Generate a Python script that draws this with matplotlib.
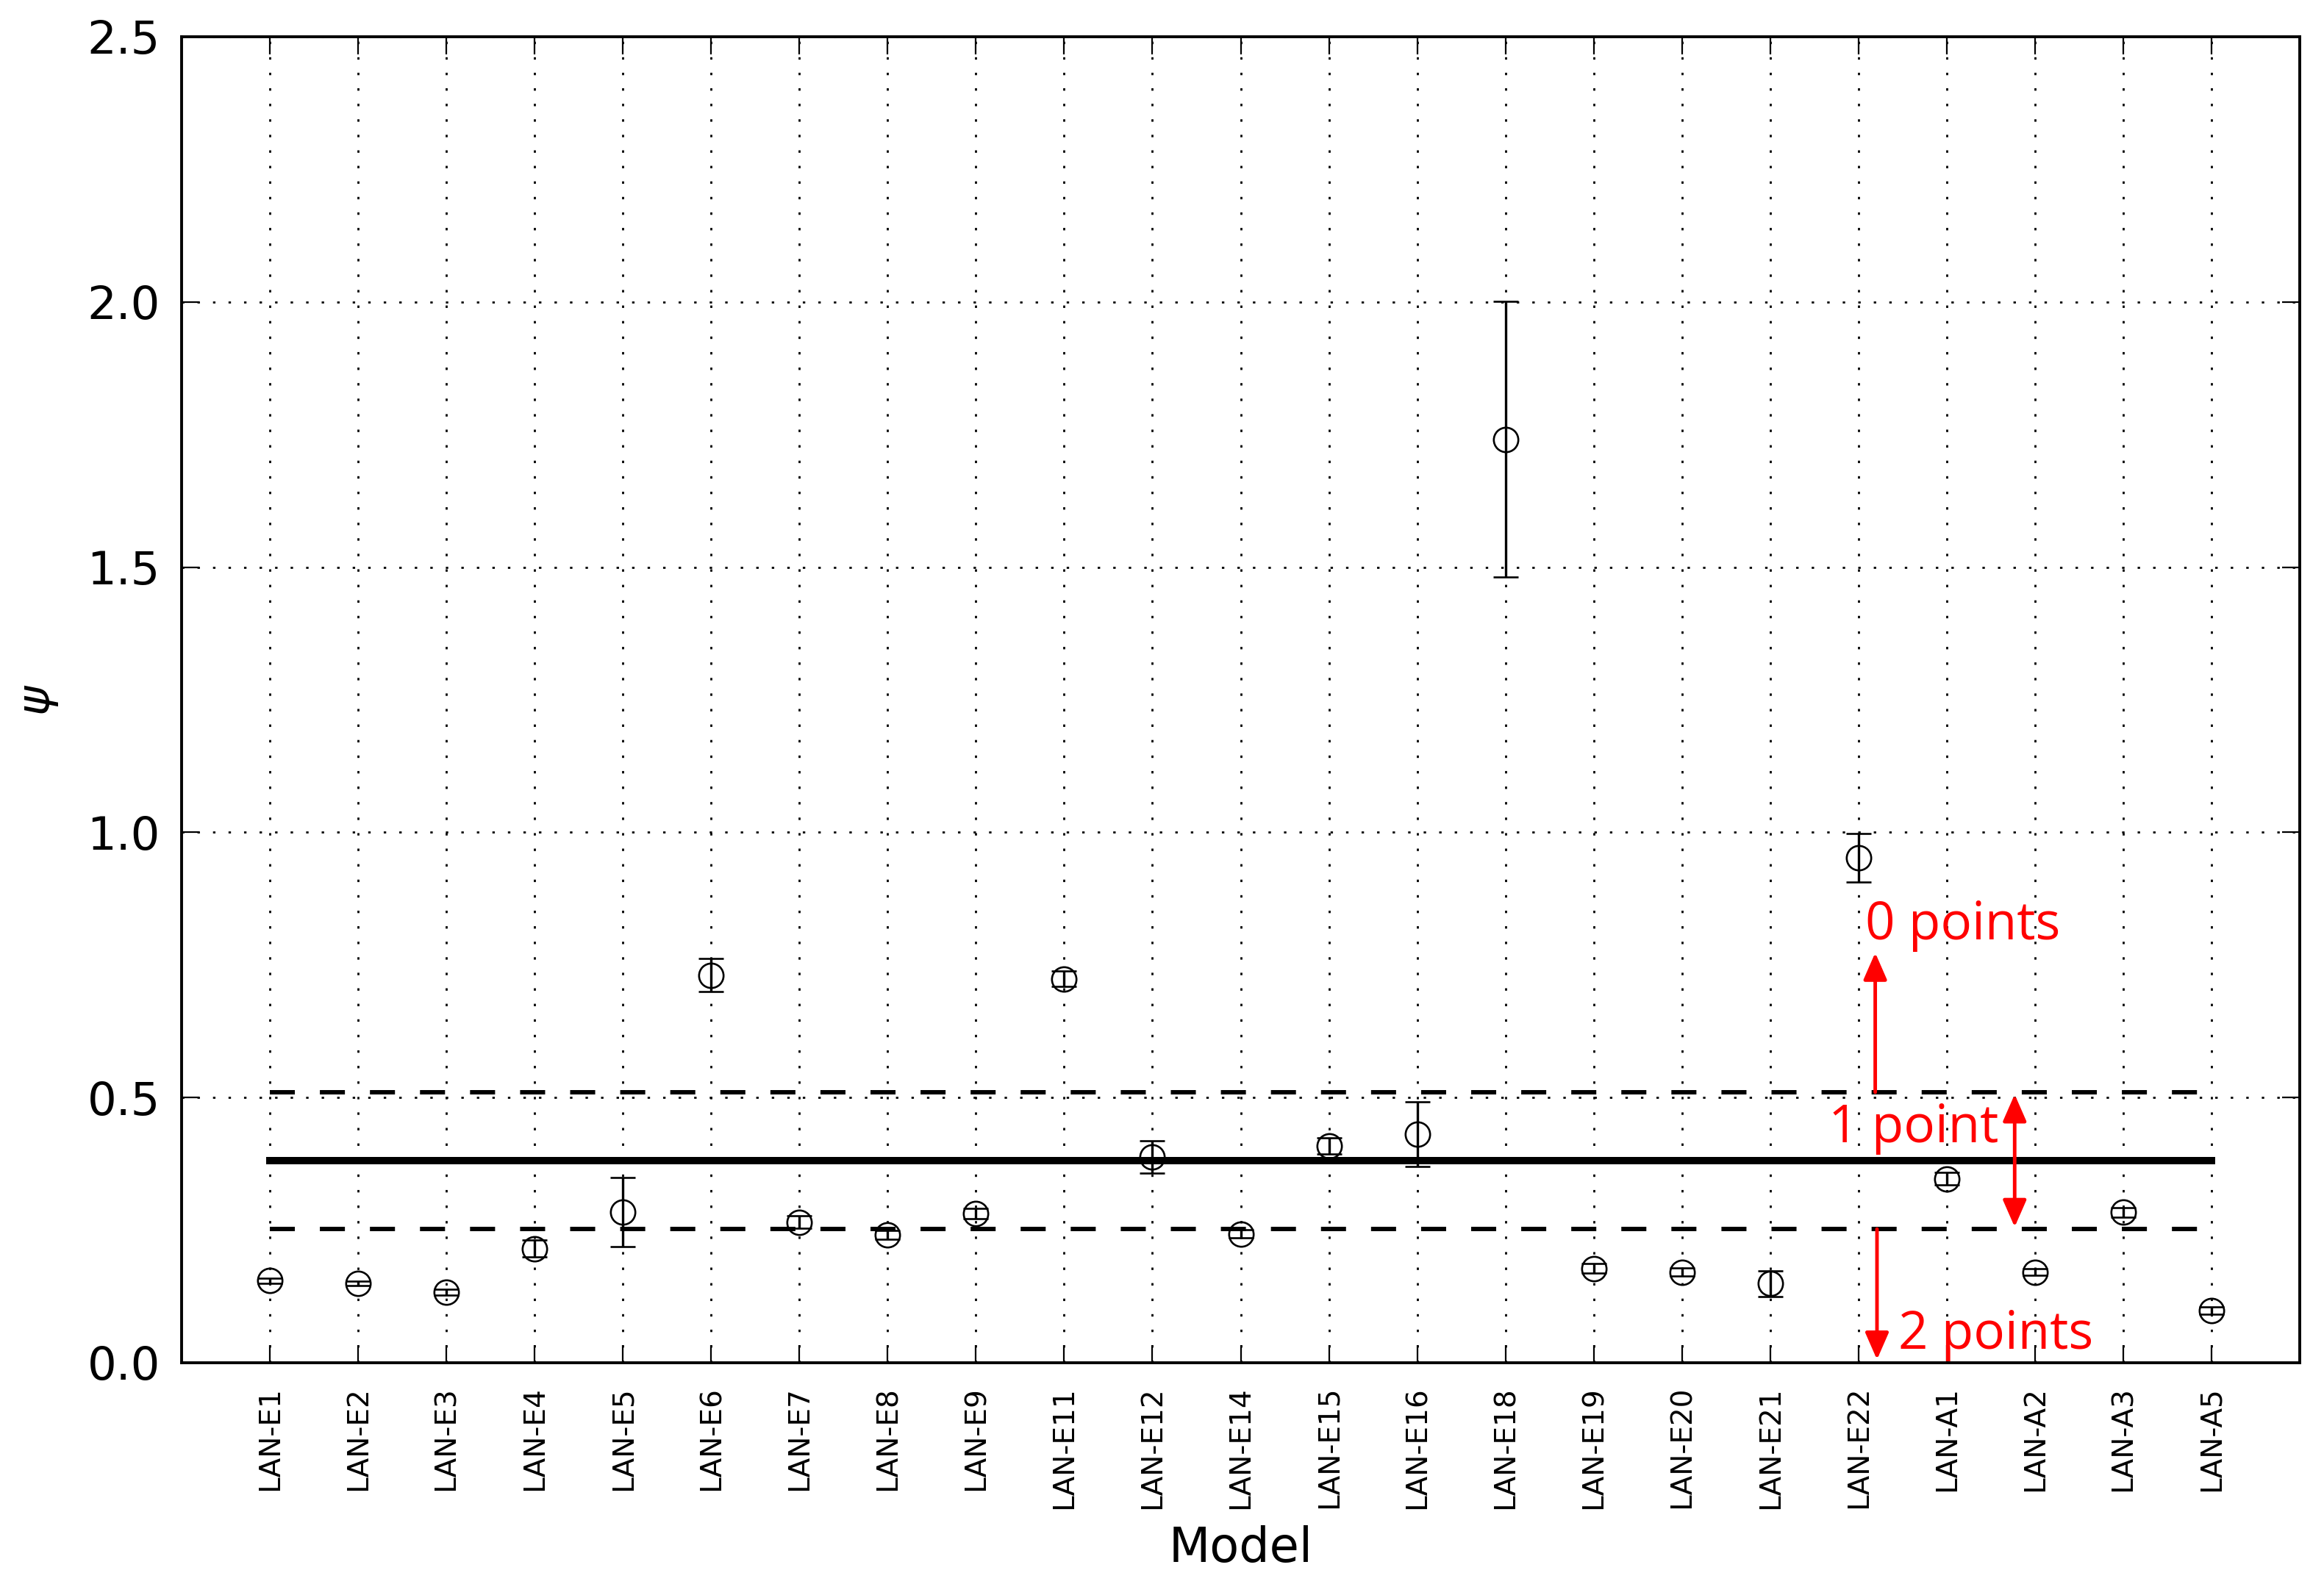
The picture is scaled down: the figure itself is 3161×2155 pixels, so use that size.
import matplotlib
matplotlib.use('Agg')
import matplotlib.pyplot as plt
import numpy as np

# ---------------- data ----------------
models = ['LAN-E1', 'LAN-E2', 'LAN-E3', 'LAN-E4', 'LAN-E5', 'LAN-E6', 'LAN-E7',
          'LAN-E8', 'LAN-E9', 'LAN-E11', 'LAN-E12', 'LAN-E14', 'LAN-E15',
          'LAN-E16', 'LAN-E18', 'LAN-E19', 'LAN-E20', 'LAN-E21', 'LAN-E22',
          'LAN-A1', 'LAN-A2', 'LAN-A3', 'LAN-A5']
psi = [0.155, 0.150, 0.133, 0.215, 0.284, 0.731, 0.265, 0.241, 0.281,
       0.724, 0.388, 0.243, 0.409, 0.431, 1.741, 0.178, 0.171, 0.149,
       0.952, 0.347, 0.171, 0.284, 0.099]
psi_err = [0.005, 0.004, 0.006, 0.016, 0.065, 0.031, 0.012, 0.008, 0.010,
           0.014, 0.030, 0.008, 0.015, 0.061, 0.260, 0.009, 0.008, 0.024,
           0.046, 0.012, 0.006, 0.009, 0.007]
mean_psi = 0.381
band = 0.129
yticks = [0.0, 0.5, 1.0, 1.5, 2.0, 2.5]
labels_red = ['0 points', '1 point', '2 points']

# ---------------- figure ----------------
W, H = 3161, 2155
fig = plt.figure(figsize=(W / 100, H / 100), dpi=100)
L, R, T, B = 247, 3128, 50, 1854
ax = fig.add_axes([L / W, 1 - B / H, (R - L) / W, (B - T) / H])

x = np.arange(len(models))
ax.errorbar(x, psi, yerr=psi_err, fmt='o', mfc='none', mec='k', ms=24,
            mew=1.9, ecolor='k', elinewidth=2.4, capsize=12, capthick=1.9,
            zorder=4)

ax.plot([x[0], x[-1]], [mean_psi, mean_psi], color='k', lw=7.2,
        solid_capstyle='projecting', zorder=3)
for yv in (mean_psi + band, mean_psi - band):
    ax.plot([x[0], x[-1]], [yv, yv], color='k', lw=4.3, dashes=(5.7, 5.7),
            dash_capstyle='butt', zorder=3)

ax.set_xlim(-1, len(models))
ax.set_ylim(0, 2.5)
ax.set_yticks(yticks)
ax.set_yticklabels(['%.1f' % v for v in yticks])
ax.set_xticks(x)
ax.set_xticklabels(models, rotation=90)

ax.set_axisbelow(True)
ax.grid(True, color='k', lw=2.0, linestyle=(0, (1.2, 6.4)))

for s in ax.spines.values():
    s.set_linewidth(2.8)

ax.tick_params(axis='both', direction='in', length=17, width=1.6,
               top=True, right=True)
ax.tick_params(axis='y', labelsize=45, pad=21)
ax.tick_params(axis='x', labelsize=28, pad=23)

ax.set_xlabel('Model', fontsize=47, va='center')
ax.xaxis.set_label_coords(0.5, (B - 2107) / (B - T))
ax.set_ylabel(r'$\psi$', fontsize=44, va='center', ha='center')
ax.yaxis.set_label_coords((52 - L) / (R - L), 0.5)

# ---------------- red annotations ----------------
red = '#ff0000'
astyle = '-|>,head_length=0.8,head_width=0.35'
ax.annotate('', xy=(18.19, 0.773), xytext=(18.19, mean_psi + band),
            arrowprops=dict(arrowstyle=astyle, color=red, lw=3.5,
                            mutation_scale=28, shrinkA=0, shrinkB=0),
            zorder=5)
ax.annotate('', xy=(18.21, 0.006), xytext=(18.21, mean_psi - band),
            arrowprops=dict(arrowstyle=astyle, color=red, lw=3.5,
                            mutation_scale=28, shrinkA=0, shrinkB=0),
            zorder=5)
ax.annotate('', xy=(19.77, mean_psi + band - 0.004),
            xytext=(19.77, mean_psi - band + 0.004),
            arrowprops=dict(arrowstyle='<|-|>,head_length=0.8,head_width=0.35',
                            color=red, lw=3.5, mutation_scale=28,
                            shrinkA=0, shrinkB=0),
            zorder=5)

tfont = dict(color=red, fontsize=51, family=['Open Sans', 'DejaVu Sans'],
             ha='left', va='baseline', zorder=6)
ax.text(18.08, 0.798, labels_red[0], **tfont)
ax.text(17.66, 0.416, labels_red[1], **tfont)
ax.text(18.45, 0.027, labels_red[2], **tfont)

fig.savefig('out.png', dpi=100)
